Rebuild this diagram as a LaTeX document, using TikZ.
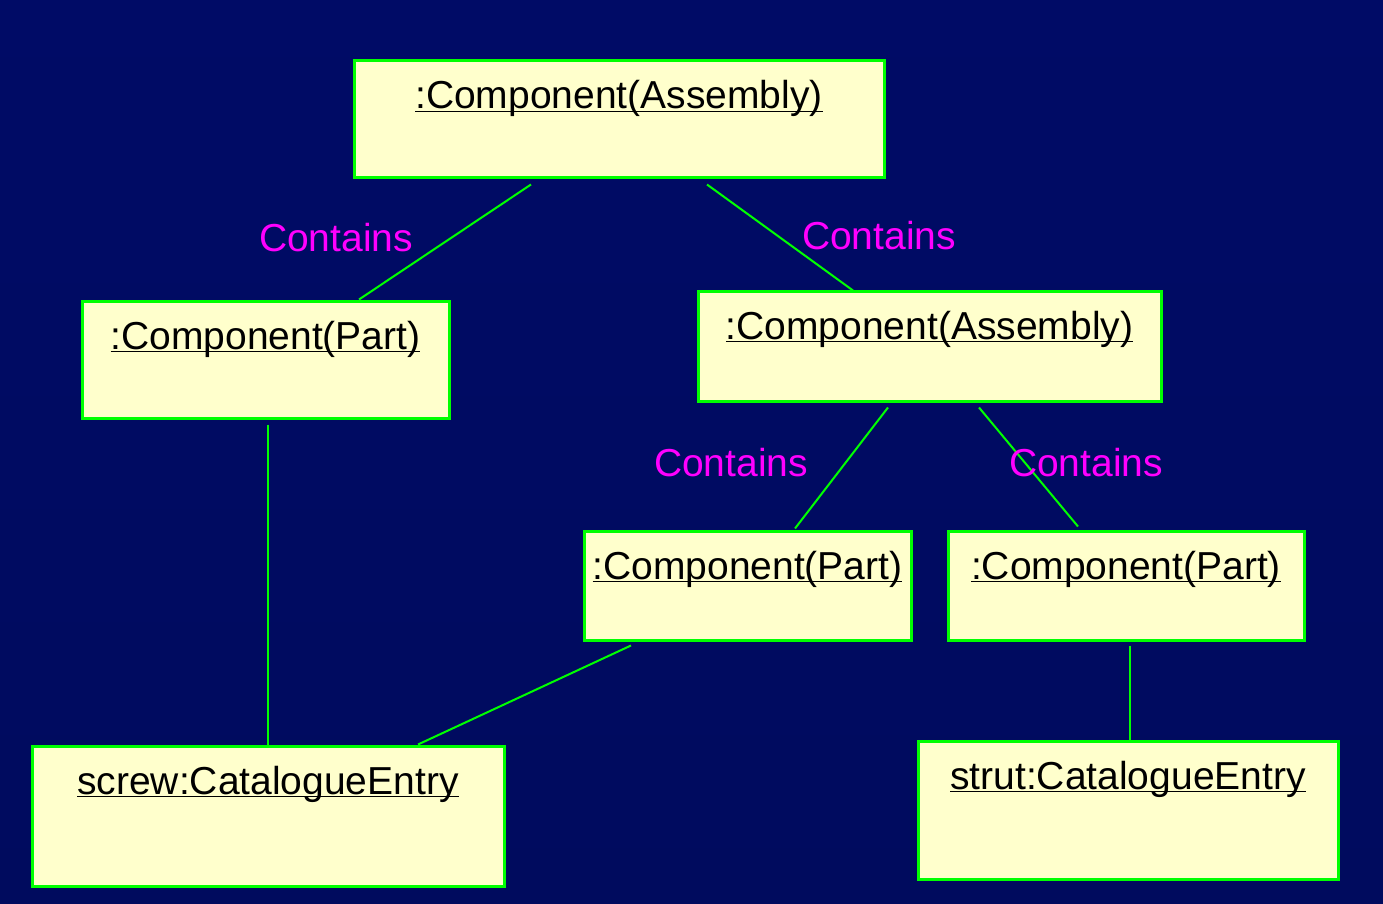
\documentclass[tikz,border=0pt]{standalone}
\usepackage{fontspec}
\setmainfont{Liberation Sans}
\usetikzlibrary{positioning}
\usetikzlibrary{calc}

\definecolor{bgtop}{RGB}{0,11,102}
\definecolor{bgmid}{RGB}{0,20,122}
\definecolor{bgbot}{RGB}{0,11,94}
\definecolor{objfill}{RGB}{255,255,204}
\definecolor{objline}{RGB}{0,255,0}
\definecolor{rolecol}{RGB}{255,0,255}

\newcommand{\objname}[1]{\underline{\smash{#1}}}

\tikzset{
  objbox/.style 2 args={draw=objline, fill=objfill, line width=1.5pt,
    font=\fontsize{19.5}{22}\selectfont, inner xsep=0pt, inner ysep=0pt,
    text height=24pt, text depth=#2, minimum width=#1},
  link/.style={draw=objline, line width=1pt},
  role/.style={text=rolecol, font=\fontsize{19.5}{22}\selectfont, inner sep=0pt}
}

\begin{document}
\begin{tikzpicture}[x=0.5pt, y=-0.5pt]

  \shade [top color=bgtop, middle color=bgmid, bottom color=bgbot]
    (0,0) rectangle (1383,904);

  % objects
  \node [objbox={265pt}{34.5pt}]   (asmT)  at (619,119.5)  {\objname{:Component(Assembly)}};
  \node [objbox={183.5pt}{34.5pt}] (partL) at (265.5,359.5) {\objname{:Component(Part)}};
  \node [objbox={231.5pt}{31pt}]   (asmR)  at (929.5,346)  {\objname{:Component(Assembly)}};
  \node [objbox={163.5pt}{30.5pt}] (partM) at (747.5,585.5) {\objname{:Component(Part)}};
  \node [objbox={178pt}{30.5pt}]   (partR) at (1126,585.5)  {\objname{:Component(Part)}};
  \node [objbox={236pt}{46pt}]     (screw) at (268,816)    {\objname{screw:CatalogueEntry}};
  \node [objbox={210pt}{45pt}]     (strut) at (1128,810)   {\objname{strut:CatalogueEntry}};

  % links
  \draw [link] ($(asmT.south)+(-88,5)$)    -- ($(partL.north)+(93.5,0)$);
  \draw [link] ($(asmT.south)+(88,5)$)     -- ($(asmR.north)+(-76.5,1)$);
  \draw [link] ($(asmR.south)+(-41.5,5)$)  -- ($(partM.north)+(47.5,-1)$);
  \draw [link] ($(asmR.south)+(49.5,5)$)   -- ($(partR.north)+(-48,-3)$);
  \draw [link] ($(partL.south)+(2.5,5)$)   -- ($(screw.north)+(0,0)$);
  \draw [link] ($(partM.south)+(-116.5,4)$) -- ($(screw.north)+(150,0)$);
  \draw [link] ($(partR.south)+(4,4)$)     -- ($(strut.north)+(2,0)$);

  % role names
  \node [role] (roleA) at (336,238)  {Contains};
  \node [role] (roleB) at (879,236)  {Contains};
  \node [role] (roleC) at (731,463)  {Contains};
  \node [role] (roleD) at (1086,463) {Contains};

\end{tikzpicture}
\end{document}
